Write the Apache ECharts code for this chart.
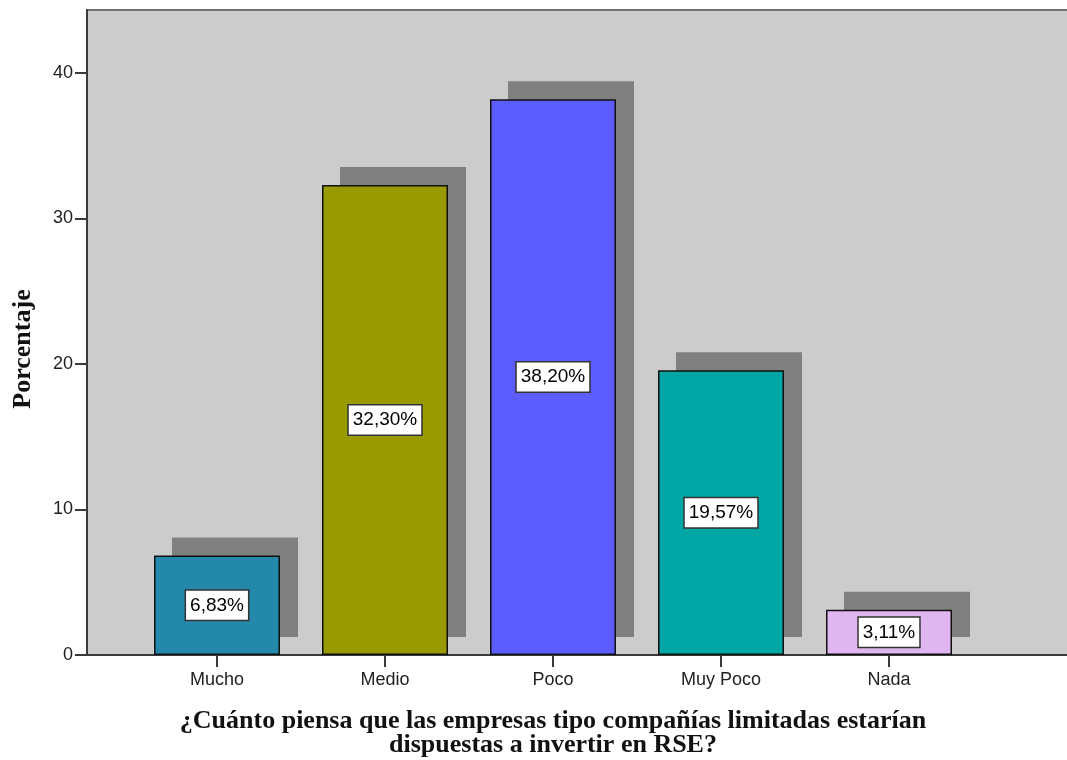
<!DOCTYPE html>
<html>
<head>
<meta charset="utf-8">
<script src="https://cdn.jsdelivr.net/npm/echarts@6/dist/echarts.min.js"></script>
<style>
html,body{margin:0;padding:0;background:#fff;}
#chart{width:1067px;height:760px;}
</style>
</head>
<body>
<div id="chart"></div>
<script>
const categories = ['Mucho', 'Medio', 'Poco', 'Muy Poco', 'Nada'];
const values = [6.83, 32.30, 38.20, 19.57, 3.11];
const barColors = ['#2388aa', '#999900', '#5c5cff', '#00a6a3', '#dfb6f0'];
const yTicks = [0, 10, 20, 30, 40];
const yMax = 44.33;
const xTitle = '¿Cuánto piensa que las empresas tipo compañías limitadas estarían\ndispuestas a invertir en RSE?';
const yTitle = 'Porcentaje';

const sansFont = 'Liberation Sans, Arial, sans-serif';
const serifFont = 'Liberation Serif, Times New Roman, serif';

const chart = echarts.init(document.getElementById('chart'), null, {renderer: 'canvas'});
const option = {
  animation: false,
  backgroundColor: '#ffffff',
  grid: [
    {left: 87, top: 10, right: -4, bottom: 105, show: true, backgroundColor: '#cccccc', borderColor: '#707070', borderWidth: 2, outerBoundsMode: 'none', containLabel: false},
    {left: 133, top: 10, width: 840, bottom: 105, outerBoundsMode: 'none', containLabel: false},
    {left: 151, top: -8, width: 840, bottom: 123, outerBoundsMode: 'none', containLabel: false}
  ],
  xAxis: [
    {gridIndex: 0, type: 'value', min: 0, max: 1, axisLine: {show: true, onZero: false, lineStyle: {color: '#3a3a3a', width: 2}},
     axisTick: {show: false}, axisLabel: {show: false}, splitLine: {show: false}},
    {gridIndex: 1, type: 'category', data: categories, axisLine: {show: false},
     axisTick: {show: true, alignWithLabel: true, length: 12, lineStyle: {color: '#3a3a3a', width: 2}},
     axisLabel: {margin: 16, fontSize: 18, color: '#222', fontFamily: sansFont},
     name: xTitle, nameLocation: 'middle', nameGap: 54,
     nameTextStyle: {fontFamily: serifFont, fontWeight: 'bold', fontSize: 26, color: '#111', lineHeight: 24}},
    {gridIndex: 2, type: 'category', data: categories, show: false}
  ],
  yAxis: [
    {gridIndex: 0, type: 'value', min: 0, max: yMax, interval: 10,
     axisLine: {show: true, lineStyle: {color: '#3a3a3a', width: 2}},
     axisTick: {show: true, length: 12, customValues: yTicks, lineStyle: {color: '#3a3a3a', width: 2}},
     axisLabel: {customValues: yTicks, margin: 14, fontSize: 18, color: '#222', fontFamily: sansFont},
     splitLine: {show: false}},
    {gridIndex: 1, type: 'value', min: 0, max: yMax, show: false},
    {gridIndex: 2, type: 'value', min: 0, max: yMax, show: false}
  ],
  graphic: [{
    type: 'text', x: 23, y: 349, rotation: Math.PI / 2,
    style: {text: yTitle, textAlign: 'center', textVerticalAlign: 'middle',
      font: 'bold 26px ' + serifFont, fill: '#111'}
  }],
  series: [{
    type: 'bar',
    name: 'shadow',
    xAxisIndex: 2,
    yAxisIndex: 2,
    barWidth: 126,
    silent: true,
    data: values,
    itemStyle: {color: '#808080'}
  }, {
    type: 'bar',
    xAxisIndex: 1,
    yAxisIndex: 1,
    barWidth: 126,
    z: 3,
    data: values.map((v, i) => ({value: v, itemStyle: {color: barColors[i]}})),
    itemStyle: {borderColor: '#111', borderWidth: 1.5},
    label: {
      show: true, position: 'inside',
      formatter: p => p.value.toFixed(2).replace('.', ',') + '%',
      fontSize: 19, color: '#000', fontFamily: sansFont,
      backgroundColor: '#ffffff', borderColor: '#333', borderWidth: 1.5, padding: [6, 4, 4, 4]
    }
  }]
};
chart.setOption(option);
</script>
</body>
</html>
